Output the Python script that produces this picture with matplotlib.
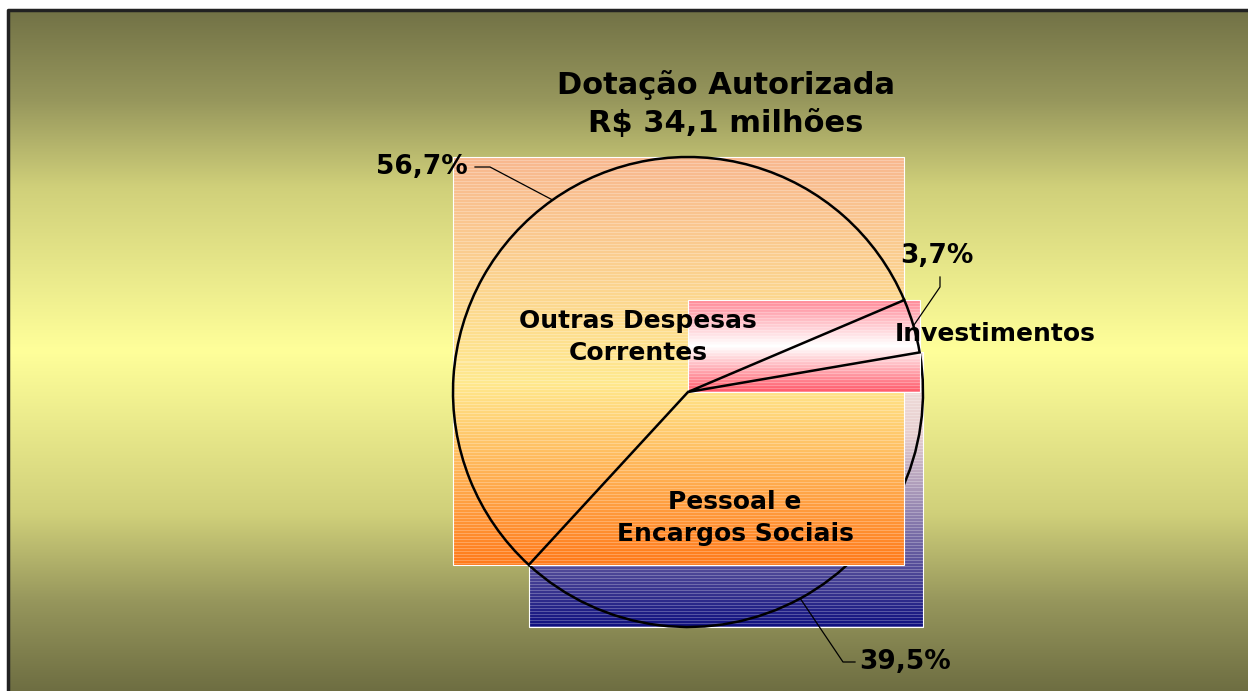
import numpy as np
import matplotlib.pyplot as plt
from matplotlib.colors import to_rgb

# slices in drawing order (counter-clockwise from the start angle)
categories = ["Investimentos", "Outras Despesas\nCorrentes", "Pessoal e\nEncargos Sociais"]
values = [3.7, 56.7, 39.5]
pct_labels = ["3,7%", "56,7%", "39,5%"]
title = "Dotação Autorizada\nR$ 34,1 milhões"

W, H = 1248, 691


def py(y):
    # picture rows run downwards, axes y runs upwards
    return H - y


def gradient(stops, n=400, stripes=False):
    pos = [s[0] for s in stops]
    cols = np.array([to_rgb(s[1]) for s in stops])
    t = np.linspace(0, 1, n)
    img = np.stack([np.interp(t, pos, cols[:, k]) for k in range(3)], axis=-1)
    if stripes:
        img[::3] = img[::3] * 0.75 + 0.25
    return img[:, None, :]


fig = plt.figure(figsize=(W / 100, H / 100), dpi=100)
fig.patch.set_facecolor("white")
ax = fig.add_axes([0, 0, 1, 1])

# background gradient (dark olive - pale yellow - dark olive)
bg = gradient([(0, "#727246"), (0.13, "#96965C"), (0.26, "#D0D07A"), (0.5, "#FFFF9A"),
               (0.74, "#D0D07A"), (0.87, "#96965C"), (1, "#6E6E42")])
ax.imshow(bg, extent=[8, W, 0, py(10)], aspect="auto", interpolation="bilinear", zorder=0)
ax.plot([8, 8, W], [0, py(10), py(10)], color="#222222", lw=2.5, zorder=1)

center = (688, py(392))
radius = 235
wedges, _ = ax.pie(values, startangle=9.7, counterclock=True, center=center, radius=radius,
                   frame=True,
                   wedgeprops=dict(facecolor="none", edgecolor="black", linewidth=1.8))

fills = [
    [(0, "#FF8A98"), (0.5, "#FFFFFF"), (1, "#FF5A6A")],
    [(0, "#F8B890"), (0.55, "#FFE98E"), (1, "#FF7A1A")],
    [(0, "#F4E4E0"), (0.3, "#E8D0D0"), (1, "#101080")],
]
zorders = [6, 4, 2]

# each slice: its gradient box, then its outline
for w, stops, z in zip(wedges, fills, zorders):
    ext = w.get_path().get_extents()
    ax.imshow(gradient(stops, n=int(ext.height), stripes=True),
              extent=[ext.x0, ext.x1, ext.y0, ext.y1],
              aspect="auto", interpolation="nearest", zorder=z - 1)
    ax.add_patch(plt.Rectangle((ext.x0, ext.y0), ext.width, ext.height, fill=False,
                               edgecolor="white", lw=0.8, zorder=z - 1))
    w.set_zorder(z)

# percentage labels with leader lines
elbows = [((940, 287), (940, 277)), ((490, 167), (475, 167)), ((843, 662), (855, 662))]
pct_pos = [((937, 256), "center"), ((468, 167), "right"), ((859, 662), "left")]
for w, (e1, e2), (tp, ha), lab in zip(wedges, elbows, pct_pos, pct_labels):
    mid = np.deg2rad((w.theta1 + w.theta2) / 2)
    x0 = w.center[0] + w.r * np.cos(mid)
    y0 = w.center[1] + w.r * np.sin(mid)
    ax.plot([x0, e1[0], e2[0]], [y0, py(e1[1]), py(e2[1])], color="black", lw=0.9, zorder=7)
    ax.text(tp[0], py(tp[1]), lab, ha=ha, va="center", fontsize=19, fontweight="bold", zorder=8)

# category labels
cat_pos = [(995, 334), (638, 337), (735, 518)]
for (x, y), lab in zip(cat_pos, categories):
    ax.text(x, py(y), lab, ha="center", va="center", fontsize=18, fontweight="bold",
            linespacing=1.4, zorder=8)

ax.text(726, py(104), title, ha="center", va="center", fontsize=22, fontweight="bold",
        linespacing=1.4, zorder=8)

ax.set_xlim(0, W)
ax.set_ylim(0, H)
ax.set_aspect("auto")
ax.axis("off")

fig.savefig("out.png", dpi=100)
